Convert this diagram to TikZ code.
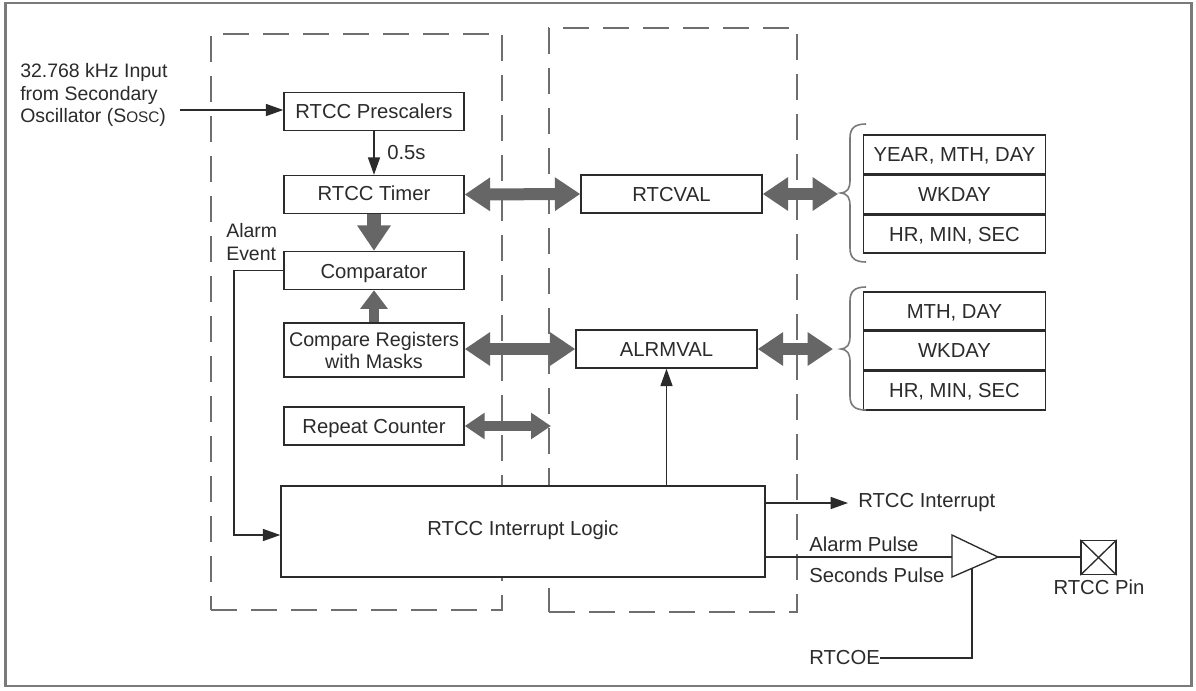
\documentclass[tikz,border=0pt]{standalone}
\usepackage{fontspec}
\setmainfont{Liberation Sans}
\usetikzlibrary{arrows.meta,calc}
\definecolor{ink}{HTML}{2B2B2B}
\definecolor{bus}{HTML}{666666}
\definecolor{frame}{HTML}{7A7A7A}
\definecolor{dashc}{HTML}{6E6E6E}
\tikzset{
  x=0.75pt,y=-0.75pt,
  wh/.style 2 args={minimum width=#1*0.75pt,minimum height=#2*0.75pt},
  lbl/.style={inner sep=0pt,text=ink,font=\fontsize{15.2pt}{17pt}\selectfont},
  lblr/.style={lbl,anchor=west},
  inlbl/.style={lblr,font=\fontsize{14.6pt}{17pt}\selectfont},
  box/.style={draw=ink,fill=white,line width=1.1pt,inner sep=0pt,align=center,text=ink,font=\fontsize{15.2pt}{16.5pt}\selectfont},
  onebox/.style={box,text height=11pt,text depth=0pt},
  dashbox/.style={draw=dashc,line width=1.2pt,dash pattern=on 19.5pt off 10.5pt,inner sep=0pt},
  wire/.style={draw=ink,line width=1pt},
  wirearrow/.style={wire,-{Triangle[length=13pt,width=9pt]}},
  bigbus/.style={draw=bus,line width=9pt,{Triangle[length=19pt,width=24pt]}-{Triangle[length=19pt,width=24pt]}},
  smallbus/.style={draw=bus,line width=7pt,{Triangle[length=15pt,width=19pt]}-{Triangle[length=15pt,width=19pt]}},
  downbus/.style={draw=bus,line width=11pt,-{Triangle[length=19pt,width=24pt]}},
  upbus/.style={draw=bus,line width=8pt,-{Triangle[length=14pt,width=20pt]}},
  bracep/.style={draw=frame,line width=1.2pt},
}
\begin{document}
\begin{tikzpicture}
\path[use as bounding box,fill=white] (0,0) rectangle (1196,690);
\node[draw=frame,line width=1.6pt,wh={1186}{683},inner sep=0pt] (outer) at (598.5,344.5) {};
\node[dashbox,wh={291}{576}] (dl) at (356.5,322) {};
\node[dashbox,wh={248}{584}] (dr) at (673,320) {};

\node[onebox,wh={180}{38}] (pre) at (374,111.5) {RTCC Prescalers};
\node[onebox,wh={180}{38},text depth=2.2pt] (tim) at (374,194.5) {RTCC Timer};
\node[onebox,wh={180}{38},text height=12.5pt,text depth=1pt] (cmp) at (374,270.5) {Comparator};
\node[box,wh={180}{54},font=\fontsize{14.8pt}{16.5pt}\selectfont] (reg) at (374,350) {Compare Registers\\with Masks};
\node[onebox,wh={180}{38}] (rep) at (374,426) {Repeat Counter};
\node[onebox,wh={181}{38}] (rtc) at (671.5,194) {RTCVAL};
\node[onebox,wh={181}{38}] (alm) at (666.5,349) {ALRMVAL};
\node[onebox,wh={484}{91},text depth=5pt] (log) at (523,531.5) {RTCC Interrupt Logic};

\node[onebox,wh={182}{39}] (t1a) at (954.5,154.5) {YEAR, MTH, DAY};
\node[onebox,wh={182}{38},anchor=north] (t1b) at (t1a.south) {WKDAY};
\node[onebox,wh={182}{38},anchor=north] (t1c) at (t1b.south) {HR, MIN, SEC};
\node[onebox,wh={182}{38}] (t2a) at (954.5,311) {MTH, DAY};
\node[onebox,wh={182}{38},anchor=north] (t2b) at (t2a.south) {WKDAY};
\node[onebox,wh={182}{39},anchor=north] (t2c) at (t2b.south) {HR, MIN, SEC};

\node[box,wh={35}{34}] (pin) at (1098.5,557.5) {};
\draw[wire] (pin.north west) -- (pin.south east) (pin.north east) -- (pin.south west);

% labels
\node[inlbl] (in1) at (20,72) {32.768 kHz Input};
\node[inlbl] (in2) at (20,95) {from Secondary};
\node[inlbl] (in3) at (20,117) {Oscillator (S{\fontsize{11.5pt}{12pt}\selectfont OSC})};
\node[lblr] (half) at (387,153) {0.5s};
\node[inlbl] (ae1) at (226,231) {Alarm};
\node[inlbl] (ae2) at (226,254) {Event};
\node[lblr] (irq) at (858,503) {RTCC Interrupt};
\node[lblr] (ap) at (809,544) {Alarm Pulse};
\node[lblr] (sp) at (809,575) {Seconds Pulse};
\node[lblr] (oe) at (809,658) {RTCOE};
\node[lbl] (pl) at (1099,587) {RTCC Pin};

% coordinates
\coordinate (inS) at (180,110);
\coordinate (elbow) at (234,535);
\coordinate (repE) at (551,426);
\coordinate (b1) at (838,194);
\coordinate (b2) at (833,349);
\coordinate (irqS) at (765,503);
\coordinate (irqE) at (848,503);
\coordinate (pulse) at (765,557);
\coordinate (bufA) at (952,535);
\coordinate (bufB) at (952,577);
\coordinate (bufC) at (998,557);
\coordinate (oeC) at (972,658);
\coordinate (oeT) at (972,568);

% thin connectors
\draw[wirearrow] (inS) -- (inS-|pre.west);
\draw[wirearrow] (pre.south) -- (tim.north);
\draw[wirearrow] (cmp.west) -| (elbow) -- (elbow-|log.west);
\draw[wirearrow] (log.north-|alm.south) -- (alm.south);
\draw[wirearrow] (irqS) -- (irqE);
\draw[wire] (pulse) -- (bufA|-pulse);
\draw[draw=ink,line width=1pt,fill=white,line join=miter] (bufA) -- (bufC) -- (bufB) -- cycle;
\draw[wire] (bufC) -- (pin.west|-bufC);
\draw[wire] (oe.east) -- (oeC) -- (oeT);

% buses
\draw[bigbus] (tim.east) -- (rtc.west);
\draw[bigbus] (reg.east|-alm.west) -- (alm.west);
\draw[bigbus] (rtc.east) -- (b1);
\draw[bigbus] (alm.east) -- (b2);
\draw[smallbus] (rep.east) -- (repE);
\draw[downbus] (tim.south) -- (cmp.north);
\draw[upbus] (reg.north) -- (cmp.south);

% braces
\draw[bracep] (866,124) .. controls (855,124) and (850,128) .. (850,138) -- (850,180) .. controls (850,188) and (848,192) .. (841,193) .. controls (848,194) and (850,198) .. (850,206) -- (850,248) .. controls (850,258) and (855,262) .. (866,262);
\draw[bracep] (866,287) .. controls (855,287) and (850,291) .. (850,301) -- (850,336) .. controls (850,344) and (848,348) .. (841,349) .. controls (848,350) and (850,354) .. (850,362) -- (850,396) .. controls (850,406) and (855,410) .. (866,410);
\end{tikzpicture}
\end{document}
